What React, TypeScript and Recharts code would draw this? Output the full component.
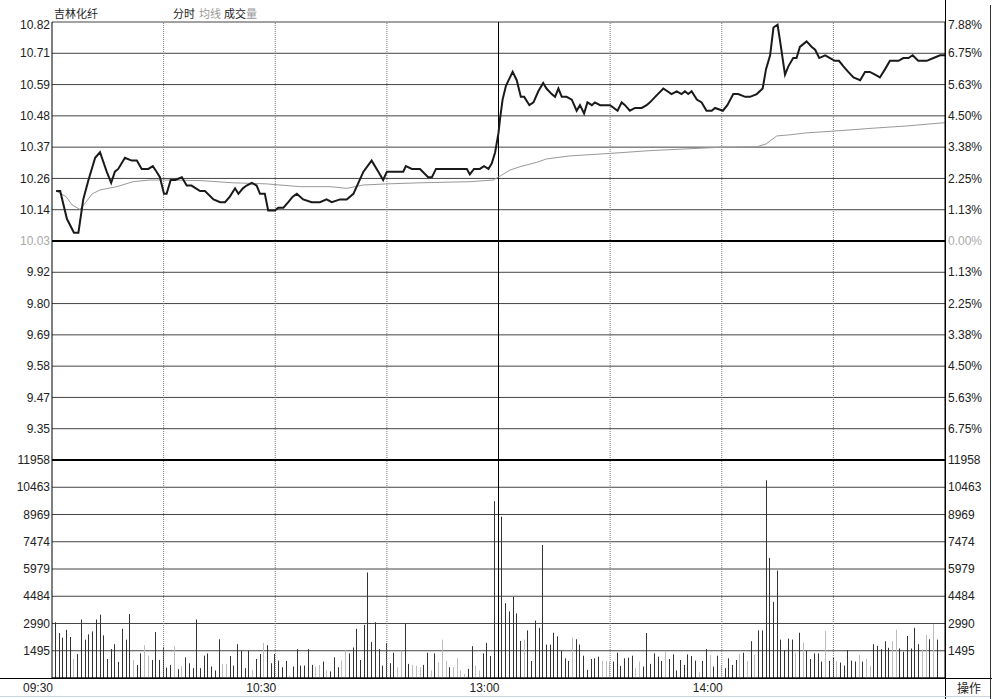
import {
    ComposedChart,
    LineChart,
    Line,
    Bar,
    XAxis,
    YAxis,
    CartesianGrid,
    ReferenceLine,
} from "recharts";

// intraday minute index (0 = 09:30, 120 = 11:30/13:00, 240 = 15:00)
const TIME_TICKS = [0, 60, 120, 180];
const TIME_LABELS = ["09:30", "10:30", "13:00", "14:00"];
const DOTTED_MINUTES = [30, 60, 90, 150, 180, 210];

// price panel: percent change from the 10.03 close
const PCT_TICKS = [7.875, 6.75, 5.625, 4.5, 3.375, 2.25, 1.125, 0, -1.125, -2.25, -3.375, -4.5, -5.625, -6.75, -7.875];
const PRICE_LABELS = ["10.82", "10.71", "10.59", "10.48", "10.37", "10.26", "10.14", "10.03", "9.92", "9.80", "9.69", "9.58", "9.47", "9.35", ""];
const PCT_LABELS = ["7.88%", "6.75%", "5.63%", "4.50%", "3.38%", "2.25%", "1.13%", "0.00%", "1.13%", "2.25%", "3.38%", "4.50%", "5.63%", "6.75%", ""];
const BASE_INDEX = 7;

// [minute, price]
const PRICE_POINTS: [number, number][] = [
    [1.1, 10.21], [2.2, 10.21], [4.0, 10.11], [5.9, 10.06], [7.1, 10.06], [8.4, 10.18], [9.8, 10.25], [11.6, 10.33],
    [12.9, 10.35], [14.7, 10.28], [15.9, 10.24], [16.9, 10.28], [17.8, 10.29], [19.6, 10.33], [21.4, 10.32], [22.8, 10.32],
    [24.1, 10.29], [25.9, 10.29], [27.1, 10.30], [28.1, 10.28], [29.0, 10.26], [30.1, 10.20], [30.8, 10.20], [31.9, 10.25],
    [33.1, 10.25], [34.9, 10.26], [36.2, 10.23], [37.5, 10.23], [39.8, 10.21], [41.1, 10.21], [43.4, 10.18], [45.2, 10.17],
    [46.5, 10.17], [47.8, 10.19], [49.2, 10.22], [50.1, 10.20], [51.3, 10.22], [52.3, 10.23], [53.7, 10.24], [55.0, 10.23],
    [55.9, 10.20], [57.2, 10.20], [58.1, 10.14], [59.0, 10.14], [59.9, 10.14], [60.8, 10.15], [62.2, 10.15], [63.5, 10.17],
    [64.7, 10.19], [65.8, 10.20], [67.5, 10.18], [69.8, 10.17], [72.0, 10.17], [73.8, 10.18], [75.2, 10.17], [77.4, 10.18],
    [79.2, 10.18], [81.0, 10.20], [83.7, 10.28], [85.9, 10.32], [87.7, 10.28], [89.0, 10.25], [90.0, 10.28], [91.3, 10.28],
    [92.6, 10.28], [94.4, 10.28], [95.1, 10.30], [96.7, 10.29], [98.9, 10.29], [101.1, 10.26], [102.1, 10.26], [103.2, 10.29],
    [106.1, 10.29], [111.5, 10.29], [112.3, 10.27], [113.4, 10.29], [115.0, 10.29], [116.1, 10.30], [117.3, 10.29], [118.2, 10.31],
    [119.1, 10.35], [120.0, 10.42], [120.4, 10.47], [121.1, 10.54], [122.0, 10.59], [123.8, 10.64], [124.9, 10.61], [126.0, 10.55],
    [126.9, 10.55], [128.3, 10.52], [129.4, 10.53], [130.7, 10.57], [132.0, 10.60], [132.9, 10.58], [134.3, 10.56], [135.2, 10.55],
    [136.1, 10.58], [137.0, 10.55], [138.3, 10.55], [139.7, 10.54], [141.0, 10.50], [141.9, 10.52], [143.0, 10.49], [143.9, 10.53],
    [145.1, 10.52], [145.9, 10.53], [147.3, 10.52], [150.0, 10.52], [152.0, 10.50], [153.1, 10.53], [154.0, 10.52], [155.3, 10.50],
    [156.7, 10.51], [158.5, 10.51], [159.8, 10.52], [160.7, 10.53], [162.1, 10.55], [164.3, 10.58], [166.5, 10.56], [167.9, 10.57],
    [169.2, 10.56], [170.1, 10.57], [171.0, 10.56], [171.9, 10.57], [173.3, 10.54], [174.6, 10.53], [175.9, 10.50], [177.3, 10.50],
    [178.2, 10.51], [180.3, 10.50], [181.5, 10.52], [183.1, 10.56], [184.4, 10.56], [186.3, 10.55], [187.6, 10.55], [189.4, 10.56],
    [191.0, 10.58], [191.9, 10.65], [193.0, 10.70], [193.9, 10.80], [195.0, 10.81], [195.8, 10.74], [197.0, 10.63], [197.9, 10.66],
    [199.2, 10.69], [200.1, 10.69], [201.0, 10.73], [202.8, 10.75], [204.2, 10.73], [205.1, 10.72], [206.2, 10.69], [207.8, 10.70],
    [209.1, 10.69], [210.4, 10.68], [211.5, 10.68], [212.7, 10.66], [214.0, 10.64], [215.4, 10.62], [217.2, 10.61], [218.5, 10.64],
    [219.8, 10.64], [221.2, 10.63], [222.5, 10.62], [223.9, 10.65], [225.2, 10.68], [227.5, 10.68], [228.8, 10.69], [230.2, 10.69],
    [231.3, 10.70], [232.8, 10.68], [235.1, 10.68], [236.9, 10.69], [238.7, 10.70], [240, 10.70],
];

// [minute, average price]
const AVG_POINTS: [number, number][] = [
    [1.1, 10.21], [3.8, 10.19], [5.4, 10.16], [7.5, 10.144], [9.1, 10.17], [10.8, 10.2], [12.9, 10.214], [17.4, 10.226],
    [21.8, 10.244], [26.3, 10.25], [30.8, 10.25], [39.8, 10.248], [48.6, 10.24], [57.7, 10.236], [66.7, 10.226], [74.7, 10.226],
    [79.2, 10.22], [83.7, 10.232], [90.0, 10.236], [98.9, 10.24], [112.3, 10.244], [118.6, 10.25], [120.9, 10.268], [123.1, 10.286],
    [125.8, 10.298], [130.3, 10.314], [132.9, 10.326], [139.2, 10.337], [150.0, 10.346], [160.7, 10.356], [179.5, 10.368], [189.4, 10.37],
    [191.9, 10.38], [194.8, 10.409], [198.3, 10.413], [202.8, 10.42], [211.8, 10.428], [220.7, 10.437], [229.7, 10.445], [240, 10.457],
];

// volume panel
const VOL_TICKS = [1495, 2990, 4484, 5979, 7474, 8969, 10463, 11958];
const VOLUME = [
    3060, 2466, 2214, 2646, 2250, 1044, 1314, 3204, 2106, 2394,
    2556, 3204, 3474, 2340, 1044, 1584, 1854, 882, 2700, 2106,
    3510, 990, 720, 1350, 1800, 1224, 990, 2520, 990, 1710,
    576, 720, 1746, 486, 630, 1134, 810, 540, 3204, 540,
    1224, 1350, 630, 414, 2124, 774, 774,
    1206, 684, 1854, 1494, 540, 1494, 450, 1044, 1314, 1926,
    1800, 810, 1314, 954, 594, 936, 126, 630, 1584, 684,
    684, 1584, 720, 630, 720, 900, 414, 360, 1134, 594,
    954, 1530, 1350, 1674, 2700, 990, 2916, 5790, 1980, 3060,
    1584, 684, 1926, 810, 1386, 594, 1494, 2970,
    774, 720, 666, 594, 720, 1386, 414, 1350, 846, 2106,
    936, 594, 594, 1080, 414, 234, 500, 1746, 666, 414,
    1350, 1926, 1206, 9700, 4000, 8850, 4104, 3654, 4446, 3546,
    2034, 2106, 2610, 936, 3150, 2754, 7295, 1836, 1836, 2484,
    2286, 1494, 1080, 936, 2214, 2124, 1836, 1224,
    450, 1044, 1080, 1170, 936, 936, 900, 900, 1386, 666,
    1080, 1116, 1224, 540, 900, 630, 2466, 774, 1350, 1170,
    936, 1494, 1044, 1296, 414, 990, 720, 1296, 1206, 954,
    306, 936, 1584, 1260, 630, 1224, 700, 540, 1080, 720,
    990, 1314, 1386, 936, 2016, 1260, 2610, 2610,
    10845, 6588, 4176, 5898, 2106, 1530, 2160, 2106, 1386, 2484,
    1944, 1494, 1044, 1350, 1350, 900, 2574, 936, 1116, 936,
    846, 684, 1530, 954, 900, 1260, 900, 1044, 666, 1854,
    1764, 1584, 2016, 1656, 2016, 2646, 1620, 1440, 2304, 1620,
    2754, 1854, 1566, 2376, 2124, 2970, 2106,
];
// d = dark bar, l = light bar
const VOL_TONES = [
    "dddddldddd", "dddddddddd", "dlddlldddd", "ddldlddddd", "dddddll",
    "ddddddlddl", "ddddddlddd", "dddlldlddd", "lldddddddd", "dddddlld",
    "dlllddldll", "ldllllddll", "dddddddddd", "dldddddddd", "ddddlddd",
    "ddddlllddd", "dddllddddd", "dldddddddd", "lddlddlddd", "dldldldd",
    "ddddddddld", "ldddddlddl", "dddddldlld", "ddddlldddd", "ddlldld",
].join("");

const FONT = "'Liberation Sans', Arial, sans-serif";
const CJK = "'Noto Sans CJK SC', sans-serif";

const priceData = PRICE_POINTS.map(([t, p]) => ({ t, p }));
const avgData = AVG_POINTS.map(([t, p]) => ({ t, p }));
const volumeData = VOLUME.map((v, i) => ({ t: i + 1, v, tone: VOL_TONES[i] }));
// invisible series that keep the label axes alive
const pctAnchor = [{ t: 0, q: 0 }, { t: 240, q: 0 }];

function findTick(value: number) {
    return PCT_TICKS.findIndex((t) => Math.abs(t - value) < 1e-6);
}

function PriceTickLeft(props: any) {
    const i = findTick(props.payload.value);
    const label = PRICE_LABELS[i];
    if (!label) return <g />;
    return (
        <text x={50} y={props.y + (i === 0 ? 3 : 0)} dy="0.35em" textAnchor="end"
            fontSize={12} fontFamily={FONT} fill={i === BASE_INDEX ? "#aaa" : "#222"}>
            {label}
        </text>
    );
}

function PriceTickRight(props: any) {
    const i = findTick(props.payload.value);
    const label = PCT_LABELS[i];
    if (!label) return <g />;
    return (
        <text x={948} y={props.y + (i === 0 ? 3 : 0)} dy="0.35em" textAnchor="start"
            fontSize={12} fontFamily={FONT} fill={i === BASE_INDEX ? "#aaa" : "#222"}>
            {label}
        </text>
    );
}

function VolTickLeft(props: any) {
    return (
        <text x={50} y={props.y} dy="0.35em" textAnchor="end" fontSize={12} fontFamily={FONT} fill="#222">
            {props.payload.value}
        </text>
    );
}

function VolTickRight(props: any) {
    return (
        <text x={948} y={props.y} dy="0.35em" textAnchor="start" fontSize={12} fontFamily={FONT} fill="#222">
            {props.payload.value}
        </text>
    );
}

function TimeTick(props: any) {
    const i = TIME_TICKS.indexOf(props.payload.value);
    return (
        <text x={props.x + 1} y={252} textAnchor="end" fontSize={12} fontFamily={FONT} fill="#222">
            {TIME_LABELS[i]}
        </text>
    );
}

function VolumeBar(props: any) {
    const { x, y, width, height, payload } = props;
    if (!height || height <= 0) return <g />;
    const cx = Math.floor(x + width / 2);
    return <rect x={cx} y={y} width={1} height={height} fill={payload.tone === "l" ? "#bcbcbc" : "#333"} />;
}

function verticals(yAxisId: string) {
    return [
        ...DOTTED_MINUTES.map((m) => (
            <ReferenceLine key={m} x={m} yAxisId={yAxisId} stroke="#777" strokeDasharray="1 1" />
        )),
        <ReferenceLine key="noon" x={120} yAxisId={yAxisId} stroke="#000" />,
    ];
}

export default function App() {
    return (
        <div style={{ position: "absolute", left: 0, top: 0, width: 997, height: 699, background: "#fff", overflow: "hidden" }}>
            {/* header */}
            <div style={{ position: "absolute", left: 54, top: 7, fontSize: 11, lineHeight: "12px", fontFamily: CJK, color: "#222" }}>吉林化纤</div>
            <div style={{ position: "absolute", left: 173, top: 7, fontSize: 11, lineHeight: "12px", fontFamily: CJK, color: "#222" }}>分时</div>
            <div style={{ position: "absolute", left: 199, top: 7, fontSize: 11, lineHeight: "12px", fontFamily: CJK, color: "#999" }}>均线</div>
            <div style={{ position: "absolute", left: 224, top: 7, fontSize: 11, lineHeight: "12px", fontFamily: CJK, color: "#222" }}>成交</div>
            <div style={{ position: "absolute", left: 246, top: 7, fontSize: 11, lineHeight: "12px", fontFamily: CJK, color: "#999" }}>量</div>

            {/* price panel */}
            <div style={{ position: "absolute", left: 0, top: 0 }}>
                <LineChart width={997} height={462} margin={{ top: 22, right: 0, bottom: 2, left: 0 }}>
                    <XAxis dataKey="t" type="number" domain={[0, 240]} hide />
                    <YAxis yAxisId="left" type="number" domain={[-7.875, 7.875]} ticks={PCT_TICKS} width={52}
                        axisLine={{ stroke: "#000" }} tickLine={false} tick={PriceTickLeft} interval={0} />
                    <YAxis yAxisId="right" orientation="right" type="number" domain={[-7.875, 7.875]} ticks={PCT_TICKS} width={52}
                        axisLine={{ stroke: "#000" }} tickLine={false} tick={PriceTickRight} interval={0} />
                    <YAxis yAxisId="price" type="number" domain={[9.24, 10.82]} hide />
                    <CartesianGrid yAxisId="left" vertical={false} stroke="#444" />
                    {verticals("left")}
                    <ReferenceLine y={0} yAxisId="left" stroke="#000" strokeWidth={2} />
                    <Line yAxisId="left" data={pctAnchor} dataKey="q" stroke="none" dot={false} activeDot={false} isAnimationActive={false} />
                    <Line yAxisId="right" data={pctAnchor} dataKey="q" stroke="none" dot={false} activeDot={false} isAnimationActive={false} />
                    <Line yAxisId="price" data={avgData} dataKey="p" type="linear" stroke="#999" strokeWidth={1}
                        dot={false} activeDot={false} isAnimationActive={false} />
                    <Line yAxisId="price" data={priceData} dataKey="p" type="linear" stroke="#1a1a1a" strokeWidth={2}
                        dot={false} activeDot={false} isAnimationActive={false} />
                </LineChart>
            </div>

            {/* volume panel */}
            <div style={{ position: "absolute", left: 0, top: 440 }}>
                <ComposedChart width={997} height={259} data={volumeData} margin={{ top: 20, right: 0, bottom: 0, left: 0 }}>
                    <XAxis dataKey="t" type="number" domain={[0, 240]} ticks={TIME_TICKS} height={21}
                        axisLine={{ stroke: "#000" }} tickLine={false} tick={TimeTick} interval={0} />
                    <YAxis yAxisId="vl" type="number" domain={[0, 11958]} ticks={VOL_TICKS} width={52}
                        axisLine={{ stroke: "#000" }} tickLine={false} tick={VolTickLeft} interval={0} />
                    <YAxis yAxisId="vr" orientation="right" type="number" domain={[0, 11958]} ticks={VOL_TICKS} width={52}
                        axisLine={{ stroke: "#000" }} tickLine={false} tick={VolTickRight} interval={0} />
                    <CartesianGrid yAxisId="vl" vertical={false} stroke="#444" />
                    {verticals("vl")}
                    <ReferenceLine y={11958} yAxisId="vl" stroke="#000" strokeWidth={2} />
                    <Bar yAxisId="vl" dataKey="v" barSize={1} shape={VolumeBar} isAnimationActive={false} />
                    <Line yAxisId="vr" dataKey="v" stroke="none" dot={false} activeDot={false} isAnimationActive={false} />
                </ComposedChart>
            </div>

            {/* frame lines */}
            <div style={{ position: "absolute", left: 0, top: 678, width: 992, height: 1, background: "#000" }} />
            <div style={{ position: "absolute", left: 945, top: 0, width: 1, height: 699, background: "#000" }} />
            <div style={{ position: "absolute", left: 990, top: 5, width: 1, height: 694, background: "#333" }} />
            <div style={{ position: "absolute", left: 0, top: 696, width: 990, height: 1, background: "#cdd3dc" }} />
            <div style={{ position: "absolute", left: 957, top: 681, fontSize: 12, lineHeight: "14px", fontFamily: CJK, color: "#222" }}>操作</div>
        </div>
    );
}
